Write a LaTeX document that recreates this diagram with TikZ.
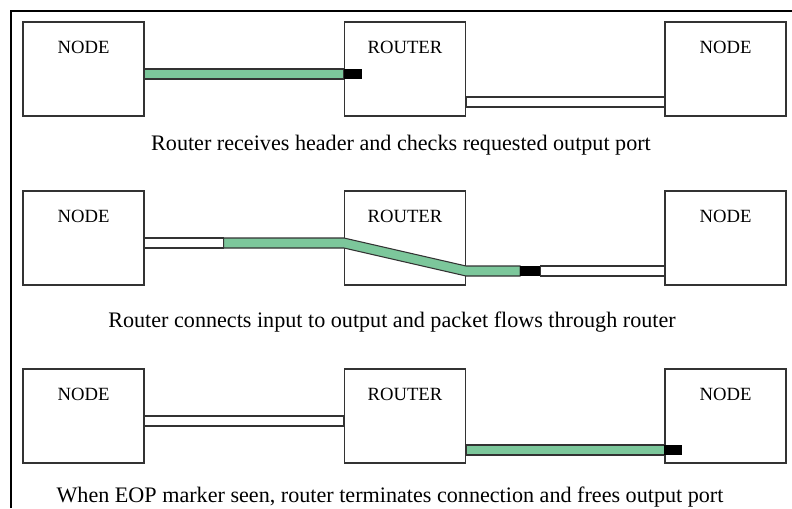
\documentclass[tikz,border=0pt]{standalone}
\usepackage{fontspec}
\setmainfont{Liberation Serif}
\usetikzlibrary{calc}
\definecolor{flow}{HTML}{7CC79B}
\definecolor{edge}{HTML}{333333}

\tikzset{
  unit/.style={draw=edge, line width=0.8pt, minimum width=90.75pt, minimum height=70.5pt, inner sep=0pt},
  tag/.style={font=\fontsize{14}{16}\selectfont},
  caption/.style={font=\fontsize{16.6}{19}\selectfont},
  wire/.style={draw=edge, fill=white, line width=0.8pt},
  busy/.style={draw=black!80, fill=flow, line width=0.8pt},
  eop/.style={fill=black}
}

\begin{document}
\begin{tikzpicture}[x=0.75pt, y=-0.75pt]
    \useasboundingbox (0,0) rectangle (792,508);
    % outer frame, cut at the right and bottom
    \draw[line width=2.2pt] (11,508) -- (11,11) -- (792,11);
    % three stages: node -- router -- node
    \foreach \r/\y in {1/69, 2/238, 3/416}{
      \node[unit] (a\r) at (83.5,\y) {};
      \node[unit] (r\r) at (405,\y) {};
      \node[unit] (b\r) at (725.5,\y) {};
      \node[tag] (at\r) at ($(a\r.north)+(0,26)$) {NODE};
      \node[tag] (rt\r) at ($(r\r.north)+(0,26)$) {ROUTER};
      \node[tag] (bt\r) at ($(b\r.north)+(0,26)$) {NODE};
    }
    % stage 1
    \draw[busy] (a1.east) rectangle ($(r1.west)+(0,10)$);
    \fill[eop] (r1.west) rectangle ++(18,10);
    \draw[wire] ($(r1.east)+(0,28)$) rectangle ($(b1.west)+(0,38)$);
    \node[caption] (c1) at (401,145) {Router receives header and checks requested output port};
    % stage 2
    \draw[wire] (a2.east) rectangle ++(79,10);
    \draw[busy] ($(a2.east)+(79,0)$) -- (r2.west) -- ($(r2.east)+(0,28)$) -- ++(54,0)
      -- ++(0,10) -- ($(r2.east)+(0,38)$) -- ($(r2.west)+(0,10)$) -- ($(a2.east)+(79,10)$) -- cycle;
    \draw[wire] ($(r2.east)+(74,28)$) rectangle ($(b2.west)+(0,38)$);
    \fill[eop] ($(r2.east)+(54,28)$) rectangle ++(20,10);
    \node[caption] (c2) at (392,322) {Router connects input to output and packet flows through router};
    % stage 3
    \draw[wire] (a3.east) rectangle ($(r3.west)+(0,10)$);
    \draw[busy] ($(r3.east)+(0,29)$) rectangle ($(b3.west)+(0,39)$);
    \fill[eop] ($(b3.west)+(0,29)$) rectangle ++(18,10);
    \node[caption] (c3) at (390,497) {When EOP marker seen, router terminates connection and frees output port};
  \end{tikzpicture}
\end{document}
